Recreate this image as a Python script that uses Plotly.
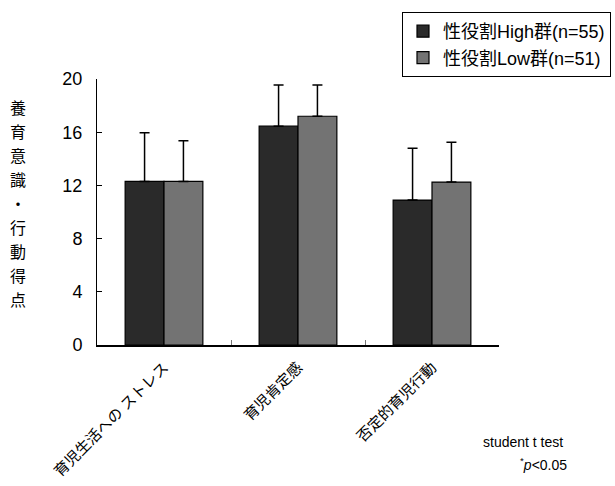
import plotly.graph_objects as go

# Data: childcare attitude / behaviour scores by gender-role group
categories = ["育児生活への ストレス", "育児肯定感", "否定的育児行動"]
high_means = [12.3, 16.45, 10.9]
high_sd = [3.65, 3.1, 3.9]
low_means = [12.3, 17.2, 12.25]
low_sd = [3.05, 2.35, 3.0]
series_names = ["性役割High群(n=55)", "性役割Low群(n=51)"]
y_ticks = [0, 4, 8, 12, 16, 20]
y_title_chars = list("養育意識・行動得点")

FONT = "Liberation Sans, Arial, Noto Sans CJK JP, sans-serif"

# plot area in pixels
L, R, T, B = 97, 116, 79, 141
W, H = 615, 486
plot_w = W - L - R
plot_h = H - T - B


def px_x(x):
    return (x - L) / plot_w


def px_y(y):
    return (H - B - y) / plot_h


fig = go.Figure()
for name, means, sds, color in [
    (series_names[0], high_means, high_sd, "#2a2a2a"),
    (series_names[1], low_means, low_sd, "#737373"),
]:
    fig.add_trace(go.Bar(
        name=name,
        x=categories,
        y=means,
        marker=dict(color=color, line=dict(color="black", width=1.2)),
        error_y=dict(type="data", array=sds, arrayminus=[0] * len(sds),
                     symmetric=False, color="black", thickness=1.5, width=5),
    ))

fig.update_layout(
    width=W, height=H,
    margin=dict(l=L, r=R, t=T, b=B, autoexpand=False),
    paper_bgcolor="white", plot_bgcolor="white",
    barmode="group", bargap=0.42, bargroupgap=0,
    font=dict(family=FONT, size=15, color="black"),
    showlegend=True,
    legend=dict(
        x=px_x(402), y=px_y(12), xanchor="left", yanchor="top",
        bordercolor="black", borderwidth=1, bgcolor="white",
        font=dict(family=FONT, size=18, color="black"),
        tracegroupgap=0, itemwidth=30,
    ),
)

fig.update_yaxes(
    range=[0, 20], tickvals=y_ticks, ticktext=[str(v) for v in y_ticks],
    showline=True, linecolor="black", linewidth=1,
    ticks="inside", ticklen=5, tickcolor="black",
    showgrid=False, zeroline=False, ticklabelstandoff=10, automargin=False,
    tickfont=dict(family=FONT, size=18, color="black"),
)
fig.update_xaxes(
    showline=True, linecolor="black", linewidth=1.5,
    ticks="inside", tickson="boundaries", ticklen=5, tickcolor="#777777",
    tickangle=-45, showgrid=False, automargin=False, ticklabelstandoff=6,
    tickfont=dict(family=FONT, size=15, color="black"),
)

# Vertical y-axis title, one character per line
for i, ch in enumerate(y_title_chars):
    fig.add_annotation(
        x=px_x(18), xref="paper", xanchor="center",
        y=px_y(108 + i * 24), yref="paper", yanchor="middle",
        text=ch, showarrow=False,
        font=dict(family=FONT, size=16, color="black"),
    )

fig.add_annotation(
    xref="paper", yref="paper", x=px_x(523), y=px_y(442),
    xanchor="center", yanchor="middle",
    text="student t test", showarrow=False,
    font=dict(family=FONT, size=14, color="black"),
)
fig.add_annotation(
    xref="paper", yref="paper", x=px_x(543), y=px_y(464),
    xanchor="center", yanchor="middle",
    text="<sup>*</sup><i>p</i><0.05", showarrow=False,
    font=dict(family=FONT, size=14, color="black"),
)

fig.write_html("out.html")
